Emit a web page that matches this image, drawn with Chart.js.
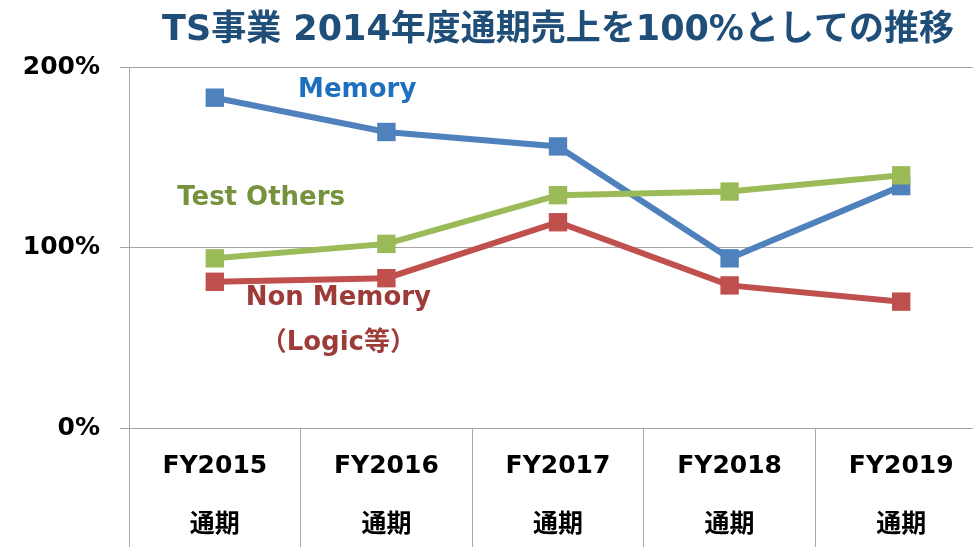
<!DOCTYPE html>
<html>
<head>
<meta charset="utf-8">
<script src="https://cdn.jsdelivr.net/npm/chart.js@4"></script>
<style>
    html, body { margin: 0; padding: 0; overflow: hidden; background: #ffffff; }
    #wrap { width: 1000px; height: 547px; }
</style>
</head>
<body>
<div id="wrap"><canvas id="lineChart"></canvas></div>
<script>
// chart values (% of FY2014 full-year sales)
const categories = ['FY2015', 'FY2016', 'FY2017', 'FY2018', 'FY2019'];
const periodLabel = '通期';
const memoryValues = [183, 164, 156, 94, 134];
const testOthersValues = [94, 102, 129, 131, 140];
const nonMemoryValues = [81, 83, 114, 79, 70];
const yTicks = [0, 100, 200];

const fontStack = "'DejaVu Sans', 'Noto Sans CJK JP', sans-serif";
const gridColor = '#A6A6A6';

// text labels placed next to the lines (x = category index, y = value)
const seriesNotes = [
    { lines: ['Memory'], color: '#1F6FBF', x: 0.83, y: 187 },
    { lines: ['Test Others'], color: '#76923C', x: 0.27, y: 127.5 },
    { lines: ['Non Memory', '（Logic等）'], color: '#9C3B38', x: 0.72, y: 72 }
];

const notesPlugin = {
    id: 'seriesNotes',
    afterDatasetsDraw(chart) {
        const ctx = chart.ctx;
        const xs = chart.scales.x;
        const ys = chart.scales.y;
        const step = xs.getPixelForValue(1) - xs.getPixelForValue(0);
        ctx.save();
        ctx.font = 'bold 26px ' + fontStack;
        ctx.textAlign = 'center';
        ctx.textBaseline = 'middle';
        seriesNotes.forEach(function (note) {
            const px = xs.getPixelForValue(0) + note.x * step;
            const py = ys.getPixelForValue(note.y);
            ctx.fillStyle = note.color;
            note.lines.forEach(function (line, i) {
                ctx.fillText(line, px, py + i * 45);
            });
        });
        ctx.restore();
    }
};

function makeSeries(label, data, color, order) {
    return {
        label: label,
        data: data,
        borderColor: color,
        backgroundColor: color,
        borderWidth: 6,
        pointStyle: 'rect',
        pointRadius: 13,
        pointHoverRadius: 13,
        pointBorderWidth: 0,
        tension: 0,
        order: order
    };
}

const ctx = document.getElementById('lineChart').getContext('2d');
new Chart(ctx, {
    type: 'line',
    data: {
        labels: categories.map(function (c) { return [c, periodLabel]; }),
        datasets: [
            makeSeries('Memory', memoryValues, '#4F81BD', 2),
            makeSeries('Non Memory', nonMemoryValues, '#C0504D', 1),
            makeSeries('Test Others', testOthersValues, '#9BBB59', 0)
        ]
    },
    options: {
        responsive: true,
        maintainAspectRatio: false,
        animation: false,
        layout: { padding: { left: 0, right: 9, top: 0, bottom: 0 } },
        plugins: {
            legend: { display: false },
            tooltip: { enabled: false },
            title: {
                display: true,
                fullSize: false,
                text: 'TS事業 2014年度通期売上を100%としての推移',
                color: '#1F4E79',
                font: { family: fontStack, size: 35, weight: 'bold' },
                padding: { top: 10, bottom: 15 }
            }
        },
        scales: {
            x: {
                offset: true,
                grid: {
                    offset: true,
                    drawOnChartArea: false,
                    drawTicks: true,
                    tickLength: 125,
                    color: gridColor,
                    lineWidth: 1
                },
                border: { display: false },
                ticks: {
                    color: '#000000',
                    maxRotation: 0,
                    autoSkip: false,
                    padding: -116,
                    font: { family: fontStack, size: 25, weight: 'bold', lineHeight: 2.35 }
                },
                afterFit: function (s) { s.height = 119; }
            },
            y: {
                min: 0,
                max: 200,
                afterBuildTicks: function (s) {
                    s.ticks = yTicks.map(function (v) { return { value: v }; });
                },
                grid: {
                    color: gridColor,
                    lineWidth: 1,
                    drawTicks: true,
                    tickLength: 9
                },
                border: { display: true, color: gridColor, width: 1 },
                ticks: {
                    color: '#000000',
                    padding: 20,
                    font: { family: fontStack, size: 25, weight: 'bold' },
                    callback: function (v) { return v + '%'; }
                },
                afterFit: function (s) { s.width = 129; }
            }
        }
    },
    plugins: [notesPlugin]
});
</script>
</body>
</html>
